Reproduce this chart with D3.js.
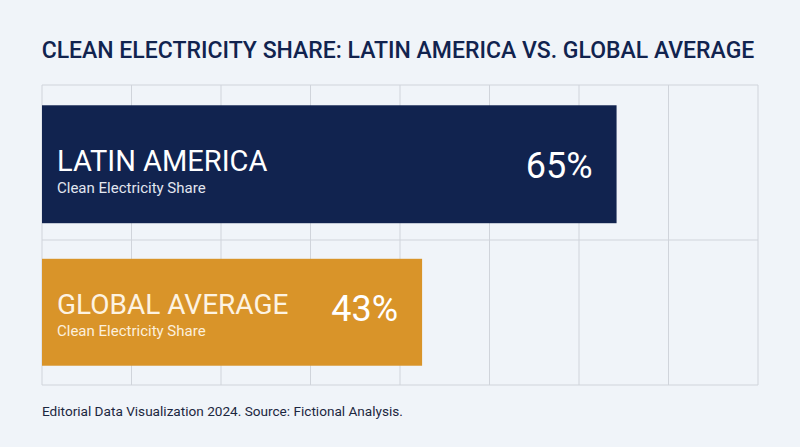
<!doctype html>
<html>
  <head>
    <meta charset="utf-8">
    <title>Clean Electricity Share</title>
    <script src="https://cdnjs.cloudflare.com/ajax/libs/d3/7.8.5/d3.min.js"></script>
    <style>
      html, body { margin: 0; padding: 0; background: #f0f4f9; }
      svg { display: block; font-family: Roboto, "Noto Sans", sans-serif; }
    </style>
  </head>
  <body>
    <div id="chart"></div>
    <script>
      // data
      const regions = ['LATIN AMERICA', 'GLOBAL AVERAGE'];
      const shares = [65, 43];
      const subLabels = ['Clean Electricity Share', 'Clean Electricity Share'];
      const barColors = ['#11234f', '#d99429'];
      const gridCols = [0, 1, 2, 3, 4, 5, 6, 7, 8];

      const W = 800, H = 447;
      const plotLeft = 42, plotRight = 758, plotTop = 85, plotBottom = 385;

      const svg = d3.select('#chart').append('svg')
        .attr('width', W)
        .attr('height', H);

      svg.append('rect').attr('width', W).attr('height', H).attr('fill', '#f0f4f9');

      // title
      svg.append('text')
        .attr('x', W / 2 - 2)
        .attr('y', 58)
        .attr('text-anchor', 'middle')
        .attr('font-size', 23)
        .attr('font-weight', 500)
        .attr('fill', '#11234f')
        .text('CLEAN ELECTRICITY SHARE: LATIN AMERICA VS. GLOBAL AVERAGE');

      // scales
      const x = d3.scaleLinear().domain([0, 81]).range([plotLeft, plotRight]);
      const gx = d3.scaleLinear().domain([0, 8]).range([plotLeft, plotRight]);
      const y = d3.scaleBand().domain(regions).range([plotTop + 3, plotBottom + 3])
        .paddingInner(0.28).paddingOuter(0.15);

      // background grid
      const grid = svg.append('g').attr('stroke', '#d0d4db').attr('stroke-width', 1);
      grid.selectAll('line.v').data(gridCols).join('line')
        .attr('class', 'v')
        .attr('x1', d => gx(d)).attr('x2', d => gx(d))
        .attr('y1', plotTop).attr('y2', plotBottom);
      grid.selectAll('line.h').data([plotTop, 240, plotBottom]).join('line')
        .attr('class', 'h')
        .attr('x1', plotLeft).attr('x2', plotRight)
        .attr('y1', d => d).attr('y2', d => d);

      const rows = regions.map((r, i) => ({ name: r, value: shares[i], sub: subLabels[i], color: barColors[i], lead: i === 0 }));

      // the lead bar is drawn a little taller
      const barTop = d => y(d.name) - (d.lead ? 5 : 0);
      const barBottom = d => y(d.name) + y.bandwidth() + (d.lead ? 6 : 0);

      const bars = svg.selectAll('g.bar').data(rows).join('g').attr('class', 'bar');

      bars.append('rect')
        .attr('x', x(0))
        .attr('y', barTop)
        .attr('width', d => x(d.value) - x(0))
        .attr('height', d => barBottom(d) - barTop(d))
        .attr('fill', d => d.color);

      bars.append('text')
        .attr('x', x(0) + 15)
        .attr('y', d => barBottom(d) - 52)
        .attr('font-size', d => d.lead ? 29 : 28)
        .attr('fill', d => d.lead ? '#ffffff' : '#fdf3e2')
        .text(d => d.name);

      bars.append('text')
        .attr('x', x(0) + 15)
        .attr('y', d => barBottom(d) - 30)
        .attr('font-size', 15)
        .attr('fill', d => d.lead ? '#e2e6ef' : '#fcefdc')
        .text(d => d.sub);

      bars.append('text')
        .attr('x', d => x(d.value) - 24)
        .attr('y', d => barBottom(d) - 45)
        .attr('text-anchor', 'end')
        .attr('font-size', 36)
        .attr('fill', '#ffffff')
        .text(d => d.value + '%');

      // footer
      svg.append('text')
        .attr('x', 42)
        .attr('y', 416)
        .attr('font-size', 13.6)
        .attr('fill', '#1c2740')
        .text('Editorial Data Visualization 2024. Source: Fictional Analysis.');
    </script>
  </body>
</html>
